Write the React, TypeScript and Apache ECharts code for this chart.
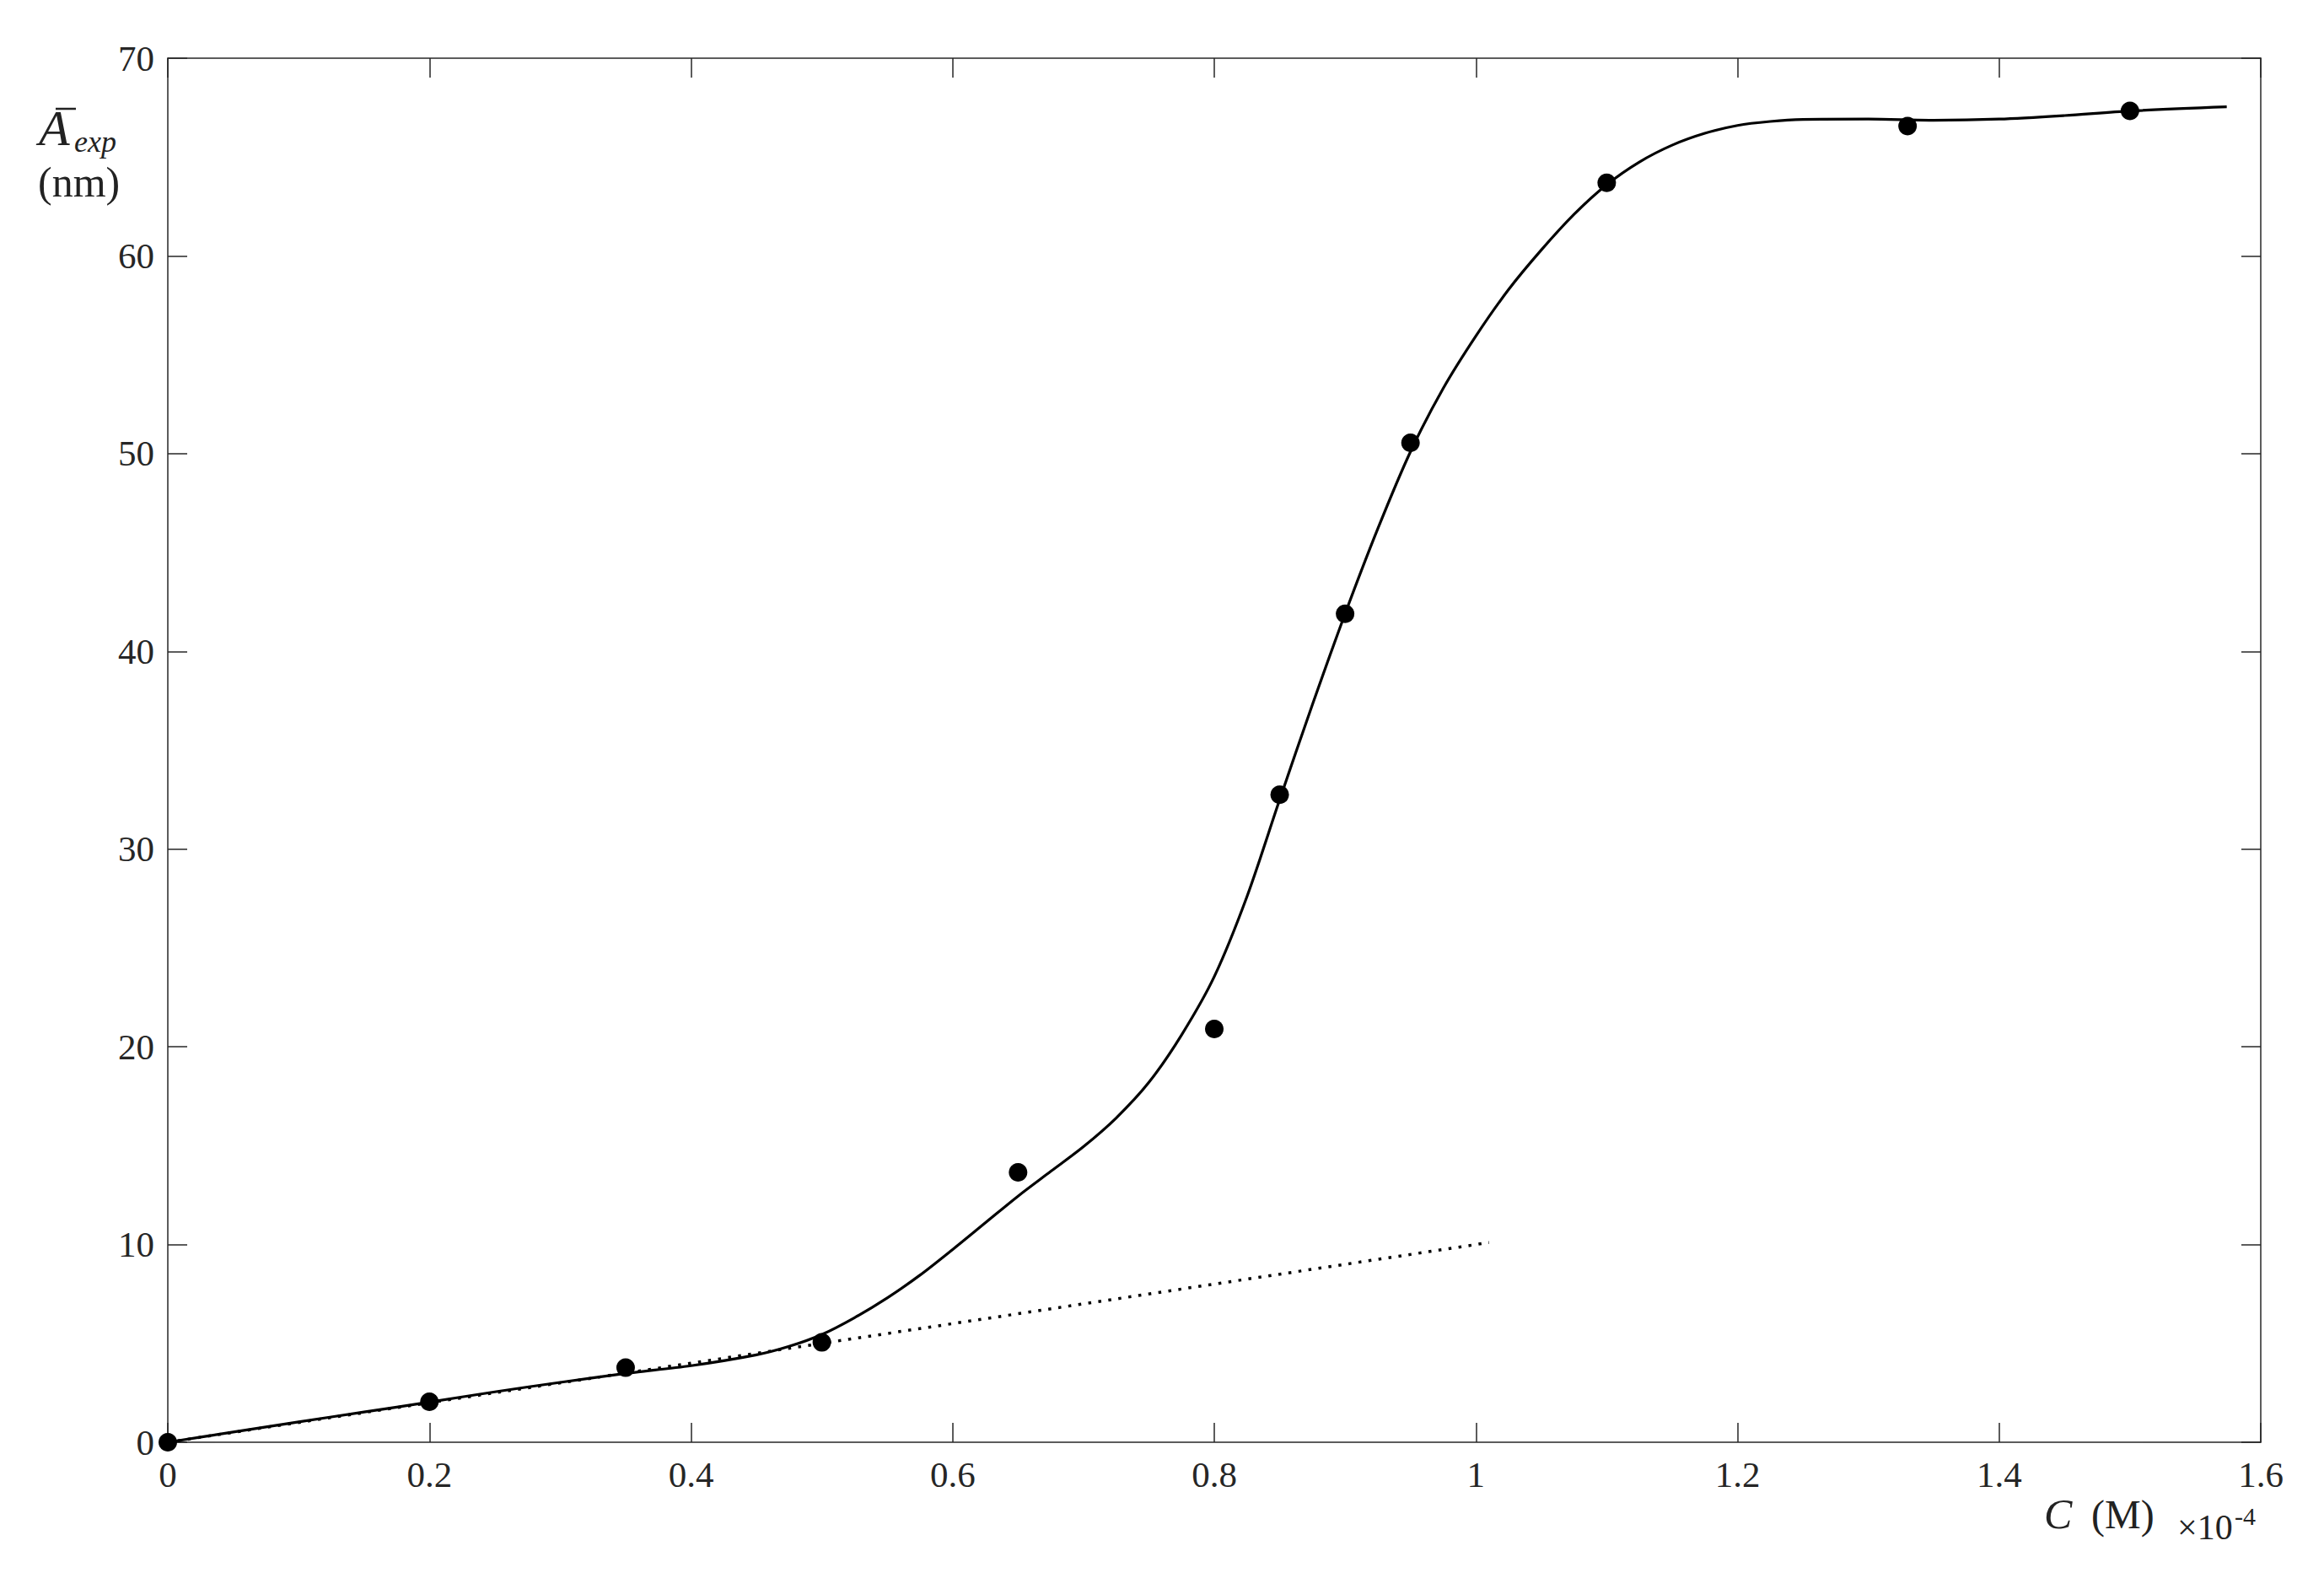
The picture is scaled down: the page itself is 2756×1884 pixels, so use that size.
import React, { useEffect, useRef } from "react";
import * as echarts from "echarts";

// Measured points (x in units of 1e-4 M, y in nm)
const pointsX = [0, 0.2, 0.35, 0.5, 0.65, 0.8, 0.85, 0.9, 0.95, 1.1, 1.33, 1.5];
const pointsY = [0, 2.05, 3.77, 5.05, 13.65, 20.9, 32.75, 41.9, 50.55, 63.7, 66.57, 67.33];

// Fitted curve (solid line)
const curveX = [0, 0.05, 0.1, 0.15, 0.2, 0.25, 0.3, 0.35, 0.4, 0.45, 0.475, 0.5, 0.525, 0.55, 0.575, 0.6, 0.625, 0.65, 0.675, 0.7, 0.725, 0.75, 0.775, 0.8, 0.825, 0.85, 0.875, 0.9, 0.925, 0.95, 0.975, 1.0, 1.025, 1.05, 1.075, 1.1, 1.125, 1.15, 1.175, 1.2, 1.225, 1.25, 1.3, 1.35, 1.4, 1.45, 1.5, 1.574];
const curveY = [0, 0.52, 1.03, 1.53, 2.03, 2.55, 3.03, 3.48, 3.87, 4.42, 4.85, 5.45, 6.3, 7.3, 8.45, 9.75, 11.1, 12.45, 13.7, 14.95, 16.4, 18.2, 20.6, 23.55, 27.6, 32.5, 37.3, 41.9, 46.2, 50.1, 53.3, 55.95, 58.3, 60.3, 62.1, 63.6, 64.75, 65.6, 66.2, 66.6, 66.8, 66.9, 66.92, 66.86, 66.92, 67.1, 67.33, 67.54];

// Dotted linear (initial slope) line
const linearX = [0, 1.01];
const linearY = [0, 10.1];

const xTicks = { min: 0, max: 1.6, interval: 0.2 };
const yTicks = { min: 0, max: 70, interval: 10 };

const FONT = "'Liberation Serif', 'Times New Roman', serif";
const AX = "#262626";

export default function App() {
  const ref = useRef<HTMLDivElement>(null);
  useEffect(() => {
    document.body.style.margin = "0";
    const chart = echarts.init(ref.current!, null, { renderer: "svg" });
    const axisCommon = {
      axisLine: { show: true, onZero: false, lineStyle: { color: AX, width: 1.5 } },
      axisTick: { show: true, inside: true, length: 23, lineStyle: { color: AX, width: 1.5 } },
      splitLine: { show: false },
    };
    const fmtX = (v: number) => String(+v.toFixed(1));
    chart.setOption({
      animation: false,
      backgroundColor: "#ffffff",
      grid: { left: 199, right: 75, top: 69, bottom: 174, containLabel: false },
      xAxis: [
        {
          type: "value", ...xTicks, position: "bottom", ...axisCommon,
          axisLabel: { show: true, margin: 17, color: AX, fontFamily: FONT, fontSize: 43, formatter: fmtX },
        },
        {
          type: "value", ...xTicks, position: "top", ...axisCommon,
          axisLabel: { show: false },
        },
      ],
      yAxis: [
        {
          type: "value", ...yTicks, position: "left", ...axisCommon,
          axisLabel: { show: true, margin: 16, color: AX, fontFamily: FONT, fontSize: 43 },
        },
        {
          type: "value", ...yTicks, position: "right", ...axisCommon,
          axisLabel: { show: false },
        },
      ],
      series: [
        {
          type: "line",
          data: linearX.map((x, i) => [x, linearY[i]]),
          showSymbol: false,
          lineStyle: { color: "#000", width: 3.5, type: [3.5, 8.5] },
          z: 2,
        },
        {
          type: "line",
          data: curveX.map((x, i) => [x, curveY[i]]),
          showSymbol: false,
          smooth: 0.3,
          lineStyle: { color: "#000", width: 3.2 },
          z: 3,
        },
        {
          type: "scatter",
          data: pointsX.map((x, i) => [x, pointsY[i]]),
          symbol: "circle",
          symbolSize: 22,
          itemStyle: { color: "#000", opacity: 1 },
          clip: false,
          z: 4,
        },
      ],
      graphic: [
        { type: "text", left: 46, top: 122, style: { text: "A", font: `italic 60px ${FONT}`, fill: "#222" } },
        { type: "line", shape: { x1: 66, y1: 129, x2: 90, y2: 129 }, style: { stroke: "#222", lineWidth: 2.5 } },
        { type: "text", left: 88, top: 150, style: { text: "exp", font: `italic 36px ${FONT}`, fill: "#222" } },
        { type: "text", left: 45, top: 191, style: { text: "(nm)", font: `50px ${FONT}`, fill: "#222" } },
        { type: "text", left: 2424, top: 1770, style: { text: "C", font: `italic 50px ${FONT}`, fill: "#222" } },
        { type: "text", left: 2480, top: 1771, style: { text: "(M)", font: `48px ${FONT}`, fill: "#222" } },
        { type: "text", left: 2582, top: 1790, style: { text: "×10", font: `42px ${FONT}`, fill: "#222" } },
        { type: "text", left: 2650, top: 1782, style: { text: "-4", font: `30px ${FONT}`, fill: "#222" } },
      ],
    });
    return () => chart.dispose();
  }, []);
  return <div ref={ref} style={{ position: "absolute", left: 0, top: 0, width: 2756, height: 1884 }} />;
}
